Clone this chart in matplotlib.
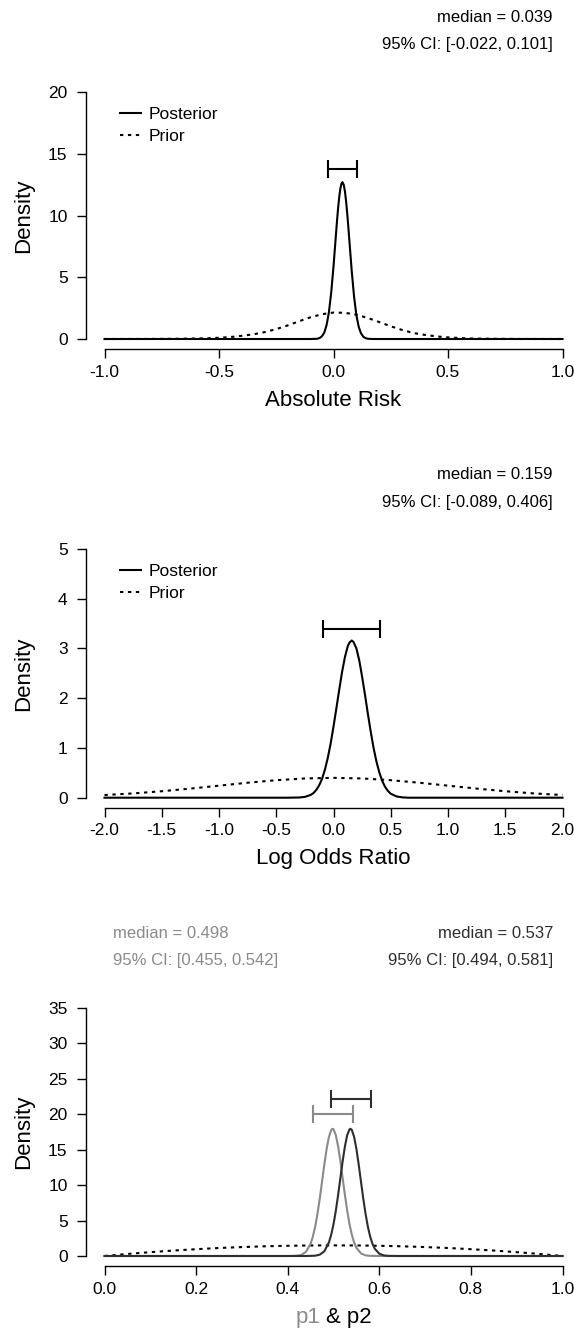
import matplotlib
matplotlib.use('Agg')
import matplotlib.pyplot as plt

plt.rcParams['font.family'] = ['Liberation Sans', 'DejaVu Sans']
plt.rcParams['axes.unicode_minus'] = False

# ---- panel 1: absolute risk ----
ar_post_x = [-1.0, -0.5, -0.1, -0.07, -0.06, -0.05, -0.04, -0.03, -0.02, -0.01, 0.0, 0.01, 0.015, 0.02,
             0.025, 0.03, 0.035, 0.039, 0.045, 0.05, 0.055, 0.06, 0.065, 0.07, 0.08, 0.09, 0.10, 0.11,
             0.12, 0.13, 0.14, 0.15, 0.17, 0.5, 1.0]
ar_post_y = [0.0, 0.0, 0.0, 0.02, 0.09, 0.23, 0.53, 1.14, 2.17, 3.76, 5.87, 8.29, 9.49, 10.58,
             11.49, 12.19, 12.6, 12.7, 12.47, 11.94, 11.15, 10.15, 9.01, 7.80, 5.41, 3.40, 1.92, 0.99,
             0.46, 0.19, 0.07, 0.02, 0.0, 0.0, 0.0]
ar_prior_x = [-1.0, -0.8, -0.7, -0.6, -0.55, -0.5, -0.45, -0.4, -0.35, -0.3, -0.25, -0.2, -0.15, -0.1,
              -0.05, 0.0, 0.05, 0.1, 0.15, 0.2, 0.25, 0.3, 0.35, 0.4, 0.45, 0.5, 0.55, 0.6, 0.7, 0.8, 1.0]
ar_prior_y = [0.0, 0.005, 0.015, 0.04, 0.06, 0.10, 0.16, 0.26, 0.38, 0.56, 0.80, 1.10, 1.44, 1.76,
              2.01, 2.14, 2.12, 1.97, 1.70, 1.37, 1.03, 0.73, 0.48, 0.33, 0.21, 0.13, 0.08, 0.04, 0.015, 0.005, 0.0]
ar_median = 0.039
ar_ci = [-0.022, 0.101]
ar_bar_y = 13.8

# ---- panel 2: log odds ratio ----
lor_post_x = [-2.0, -1.0, -0.4, -0.3, -0.25, -0.2, -0.175, -0.15, -0.125, -0.1, -0.075, -0.05, -0.025,
              0.0, 0.025, 0.05, 0.075, 0.1, 0.125, 0.14, 0.159, 0.175, 0.2, 0.225, 0.25, 0.275, 0.3,
              0.325, 0.35, 0.375, 0.4, 0.425, 0.45, 0.475, 0.5, 0.55, 0.6, 0.65, 1.0, 2.0]
lor_post_y = [0.0, 0.0, 0.0, 0.004, 0.016, 0.055, 0.094, 0.157, 0.249, 0.38, 0.563, 0.80, 1.088,
              1.43, 1.796, 2.17, 2.53, 2.83, 3.05, 3.12, 3.16, 3.13, 3.00, 2.76, 2.43, 2.07, 1.69,
              1.33, 1.00, 0.727, 0.51, 0.34, 0.22, 0.136, 0.08, 0.026, 0.007, 0.0, 0.0, 0.0]
lor_prior_x = [-2.0, -1.75, -1.5, -1.25, -1.0, -0.75, -0.5, -0.25, 0.0, 0.25, 0.5, 0.75, 1.0, 1.25, 1.5, 1.75, 2.0]
lor_prior_y = [0.054, 0.086, 0.130, 0.183, 0.242, 0.301, 0.352, 0.387, 0.399, 0.387, 0.352, 0.301,
               0.242, 0.183, 0.130, 0.086, 0.054]
lor_median = 0.159
lor_ci = [-0.089, 0.406]
lor_bar_y = 3.39

# ---- panel 3: p1 & p2 ----
p1_x = [0.0, 0.4, 0.42, 0.43, 0.44, 0.45, 0.455, 0.46, 0.465, 0.47, 0.475, 0.48, 0.485, 0.49, 0.495,
        0.498, 0.50, 0.505, 0.51, 0.515, 0.52, 0.525, 0.53, 0.535, 0.54, 0.545, 0.55, 0.56, 0.57,
        0.58, 0.60, 1.0]
p1_y = [0.0, 0.0, 0.04, 0.16, 0.59, 1.73, 2.75, 4.15, 5.95, 8.10, 10.5, 12.92, 15.12, 16.82, 17.79,
        17.95, 17.88, 17.08, 15.5, 13.39, 10.98, 8.57, 6.35, 4.48, 3.0, 1.91, 1.16, 0.36, 0.09,
        0.02, 0.0, 0.0]
p2_x = [0.0, 0.44, 0.46, 0.47, 0.48, 0.49, 0.495, 0.50, 0.505, 0.51, 0.515, 0.52, 0.525, 0.53, 0.535,
        0.537, 0.54, 0.545, 0.55, 0.555, 0.56, 0.565, 0.57, 0.575, 0.58, 0.585, 0.59, 0.60, 0.61,
        0.62, 0.64, 1.0]
p2_y = [0.0, 0.0, 0.04, 0.19, 0.66, 1.91, 3.0, 4.48, 6.35, 8.57, 10.98, 13.39, 15.5, 17.08, 17.88,
        17.95, 17.79, 16.82, 15.12, 12.92, 10.5, 8.10, 5.95, 4.15, 2.75, 1.73, 1.04, 0.32, 0.08,
        0.02, 0.0, 0.0]
p_prior_x = [0.0, 0.05, 0.1, 0.15, 0.2, 0.25, 0.3, 0.35, 0.4, 0.45, 0.5, 0.55, 0.6, 0.65, 0.7, 0.75,
             0.8, 0.85, 0.9, 0.95, 1.0]
p_prior_y = [0.0, 0.29, 0.54, 0.77, 0.96, 1.13, 1.26, 1.37, 1.44, 1.49, 1.5, 1.49, 1.44, 1.37, 1.26,
             1.13, 0.96, 0.77, 0.54, 0.29, 0.0]
p1_median, p1_ci, p1_bar_y = 0.498, [0.455, 0.542], 20.0
p2_median, p2_ci, p2_bar_y = 0.537, [0.494, 0.581], 22.1

xticks_ar = [-1.0, -0.5, 0.0, 0.5, 1.0]
yticks_ar = [0, 5, 10, 15, 20]
xticks_lor = [-2.0, -1.5, -1.0, -0.5, 0.0, 0.5, 1.0, 1.5, 2.0]
yticks_lor = [0, 1, 2, 3, 4, 5]
xticks_p = [0.0, 0.2, 0.4, 0.6, 0.8, 1.0]
yticks_p = [0, 5, 10, 15, 20, 25, 30, 35]

GREY = '#8a8a8a'
DARK = '#2e2e2e'
W, H = 574, 1334

fig = plt.figure(figsize=(W / 100, H / 100), dpi=100)


def make_axes(top_px, bottom_px):
    left, right = 104.5, 562.5
    ax = fig.add_axes([left / W, 1 - bottom_px / H, (right - left) / W, (bottom_px - top_px) / H])
    ax.patch.set_visible(False)
    for s in ['top', 'right']:
        ax.spines[s].set_visible(False)
    ax.spines['left'].set_position(('outward', 13.3))
    ax.spines['bottom'].set_position(('outward', 7.2))
    ax.spines['left'].set_linewidth(1.0)
    ax.spines['bottom'].set_linewidth(1.0)
    ax.tick_params(axis='both', length=6.3, width=1.0, labelsize=12.5)
    ax.tick_params(axis='x', pad=5)
    ax.tick_params(axis='y', pad=7)
    return ax


def finish(ax, xticks, yticks, xlabel, px_h):
    ax.set_xlim(xticks[0], xticks[-1])
    ax.set_ylim(yticks[0], yticks[-1])
    ax.set_xticks(xticks)
    ax.set_xticklabels(['%.1f' % t for t in xticks])
    ax.set_yticks(yticks)
    ax.set_yticklabels([str(t) for t in yticks])
    ax.spines['left'].set_bounds(yticks[0], yticks[-1])
    ax.spines['bottom'].set_bounds(xticks[0], xticks[-1])
    ax.set_ylabel('Density', fontsize=16, va='center')
    ax.yaxis.set_label_coords(-0.176, 0.5)
    lab = ax.set_xlabel(xlabel, fontsize=16, va='center')
    ax.xaxis.set_label_coords(0.5, -61 / px_h)
    return lab


def ci_text(ax, median, ci, px_h, x, ha, color):
    ax.text(x, 1 + 75 / px_h, 'median = %.3f' % median, transform=ax.transAxes,
            ha=ha, va='center', fontsize=12, color=color)
    ax.text(x, 1 + 47 / px_h, '95%% CI: [%.3f, %.3f]' % (ci[0], ci[1]), transform=ax.transAxes,
            ha=ha, va='center', fontsize=12, color=color)


def ci_bar(ax, median, ci, y, color):
    ax.errorbar([median], [y], xerr=[[median - ci[0]], [ci[1] - median]], fmt='none',
                ecolor=color, elinewidth=1.5, capsize=6.5, capthick=1.5, clip_on=False)


def legend(ax):
    ax.legend(loc='upper left', bbox_to_anchor=(0.034, 0.939), frameon=False, fontsize=12.5,
              handlelength=1.2, handletextpad=0.46, labelspacing=0.37, borderpad=0, borderaxespad=0)


# Panel 1
ax1 = make_axes(92, 339)
ax1.plot(ar_post_x, ar_post_y, color='black', lw=1.5, label='Posterior', clip_on=False)
ax1.plot(ar_prior_x, ar_prior_y, color='black', lw=1.5, ls=(0, (1.6, 2.2)), label='Prior', clip_on=False)
ci_bar(ax1, ar_median, ar_ci, ar_bar_y, 'black')
finish(ax1, xticks_ar, yticks_ar, 'Absolute Risk', 247)
ci_text(ax1, ar_median, ar_ci, 247, 0.979, 'right', 'black')
legend(ax1)

# Panel 2
ax2 = make_axes(549, 797.7)
ax2.plot(lor_post_x, lor_post_y, color='black', lw=1.5, label='Posterior', clip_on=False)
ax2.plot(lor_prior_x, lor_prior_y, color='black', lw=1.5, ls=(0, (1.6, 2.2)), label='Prior', clip_on=False)
ci_bar(ax2, lor_median, lor_ci, lor_bar_y, 'black')
finish(ax2, xticks_lor, yticks_lor, 'Log Odds Ratio', 248.7)
ci_text(ax2, lor_median, lor_ci, 248.7, 0.979, 'right', 'black')
legend(ax2)

# Panel 3
ax3 = make_axes(1008, 1256)
ax3.plot(p_prior_x, p_prior_y, color='black', lw=1.5, ls=(0, (1.6, 2.2)), clip_on=False)
ax3.plot(p1_x, p1_y, color=GREY, lw=1.5, clip_on=False)
ax3.plot(p2_x, p2_y, color=DARK, lw=1.5, clip_on=False)
ci_bar(ax3, p1_median, p1_ci, p1_bar_y, GREY)
ci_bar(ax3, p2_median, p2_ci, p2_bar_y, DARK)
lab = finish(ax3, xticks_p, yticks_p, 'p1 & p2', 248)
ci_text(ax3, p1_median, p1_ci, 248, 0.0186, 'left', GREY)
ci_text(ax3, p2_median, p2_ci, 248, 0.979, 'right', DARK)

# two-coloured x label
fig.canvas.draw()
bb = lab.get_window_extent()
lab.set_visible(False)
yc = (bb.y0 + bb.y1) / 2 / H
fig.text(bb.x0 / W, yc, 'p1', color=GREY, ha='left', va='center', fontsize=16)
fig.text(bb.x1 / W, yc, '& p2', color='black', ha='right', va='center', fontsize=16)

fig.savefig('out.png', dpi=100)
